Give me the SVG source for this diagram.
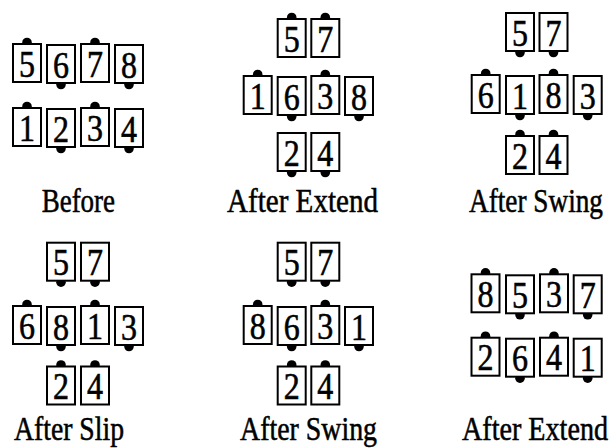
<svg xmlns="http://www.w3.org/2000/svg" width="612" height="448" viewBox="0 0 612 448">
<style>
.b{fill:#fff;stroke:#000;stroke-width:2}
.d{fill:#000}
.n{font-family:"Liberation Serif","Times New Roman",serif;font-size:38px;text-anchor:middle;fill:#000;stroke:#000;stroke-width:0.6}
.l{font-family:"Liberation Serif","Times New Roman",serif;font-size:28px;fill:#000;stroke:#000;stroke-width:0.45}
</style>
<rect width="612" height="448" fill="#fff"/>
<defs>
<g id="bt"><circle class="d" cx="15" cy="-0.5" r="4.8"/><rect class="b" x="1" y="1" width="28" height="38"/></g>
<g id="bb"><circle class="d" cx="15" cy="40.5" r="4.8"/><rect class="b" x="1" y="1" width="28" height="38"/></g>
</defs>
<g id="before">
<g id="b5" transform="translate(12,43)"><use href="#bt"/><text class="n" x="15" y="33.5" textLength="16" lengthAdjust="spacingAndGlyphs">5</text></g>
<g id="b6" transform="translate(46,44)"><use href="#bb"/><text class="n" x="15" y="33.5" textLength="16" lengthAdjust="spacingAndGlyphs">6</text></g>
<g id="b7" transform="translate(80,43)"><use href="#bt"/><text class="n" x="15" y="33.5" textLength="16" lengthAdjust="spacingAndGlyphs">7</text></g>
<g id="b8" transform="translate(114,44)"><use href="#bb"/><text class="n" x="15" y="33.5" textLength="16" lengthAdjust="spacingAndGlyphs">8</text></g>
<g id="b1" transform="translate(12,107)"><use href="#bt"/><text class="n" x="15" y="33.5" textLength="16" lengthAdjust="spacingAndGlyphs">1</text></g>
<g id="b2" transform="translate(46,108)"><use href="#bb"/><text class="n" x="15" y="33.5" textLength="16" lengthAdjust="spacingAndGlyphs">2</text></g>
<g id="b3" transform="translate(80,107)"><use href="#bt"/><text class="n" x="15" y="33.5" textLength="16" lengthAdjust="spacingAndGlyphs">3</text></g>
<g id="b4" transform="translate(114,108)"><use href="#bb"/><text class="n" x="15" y="33.5" textLength="16" lengthAdjust="spacingAndGlyphs">4</text></g>
<text class="l" transform="translate(41.7,212) scale(1,1.2)" textLength="73.3" lengthAdjust="spacingAndGlyphs">Before</text>
</g>
<g id="extend1">
<g id="e5" transform="translate(276.7,18)"><use href="#bt"/><text class="n" x="15" y="33.5" textLength="16" lengthAdjust="spacingAndGlyphs">5</text></g>
<g id="e7" transform="translate(310.3,18)"><use href="#bt"/><text class="n" x="15" y="33.5" textLength="16" lengthAdjust="spacingAndGlyphs">7</text></g>
<g id="e1" transform="translate(242.7,75)"><use href="#bt"/><text class="n" x="15" y="33.5" textLength="16" lengthAdjust="spacingAndGlyphs">1</text></g>
<g id="e6" transform="translate(276.7,76)"><use href="#bb"/><text class="n" x="15" y="33.5" textLength="16" lengthAdjust="spacingAndGlyphs">6</text></g>
<g id="e3" transform="translate(310.3,75)"><use href="#bt"/><text class="n" x="15" y="33.5" textLength="16" lengthAdjust="spacingAndGlyphs">3</text></g>
<g id="e8" transform="translate(344,76)"><use href="#bb"/><text class="n" x="15" y="33.5" textLength="16" lengthAdjust="spacingAndGlyphs">8</text></g>
<g id="e2" transform="translate(276.7,132)"><use href="#bb"/><text class="n" x="15" y="33.5" textLength="16" lengthAdjust="spacingAndGlyphs">2</text></g>
<g id="e4" transform="translate(310.3,132)"><use href="#bb"/><text class="n" x="15" y="33.5" textLength="16" lengthAdjust="spacingAndGlyphs">4</text></g>
<text class="l" transform="translate(227,212) scale(1,1.2)" textLength="151" lengthAdjust="spacingAndGlyphs">After Extend</text>
</g>
<g id="swing1">
<g id="s5" transform="translate(505,12)"><use href="#bb"/><text class="n" x="15" y="33.5" textLength="16" lengthAdjust="spacingAndGlyphs">5</text></g>
<g id="s7" transform="translate(538.5,12)"><use href="#bb"/><text class="n" x="15" y="33.5" textLength="16" lengthAdjust="spacingAndGlyphs">7</text></g>
<g id="s6" transform="translate(470.7,74)"><use href="#bt"/><text class="n" x="15" y="33.5" textLength="16" lengthAdjust="spacingAndGlyphs">6</text></g>
<g id="s1" transform="translate(505,75)"><use href="#bb"/><text class="n" x="15" y="33.5" textLength="16" lengthAdjust="spacingAndGlyphs">1</text></g>
<g id="s8" transform="translate(538.5,74)"><use href="#bt"/><text class="n" x="15" y="33.5" textLength="16" lengthAdjust="spacingAndGlyphs">8</text></g>
<g id="s3" transform="translate(572.7,75)"><use href="#bb"/><text class="n" x="15" y="33.5" textLength="16" lengthAdjust="spacingAndGlyphs">3</text></g>
<g id="s2" transform="translate(505,135)"><use href="#bt"/><text class="n" x="15" y="33.5" textLength="16" lengthAdjust="spacingAndGlyphs">2</text></g>
<g id="s4" transform="translate(538.5,135)"><use href="#bt"/><text class="n" x="15" y="33.5" textLength="16" lengthAdjust="spacingAndGlyphs">4</text></g>
<text class="l" transform="translate(469,212) scale(1,1.2)" textLength="134" lengthAdjust="spacingAndGlyphs">After Swing</text>
</g>
<g id="slip">
<g id="p5" transform="translate(46,241.7)"><use href="#bb"/><text class="n" x="15" y="33.5" textLength="16" lengthAdjust="spacingAndGlyphs">5</text></g>
<g id="p7" transform="translate(80,241.7)"><use href="#bb"/><text class="n" x="15" y="33.5" textLength="16" lengthAdjust="spacingAndGlyphs">7</text></g>
<g id="p6" transform="translate(12,305)"><use href="#bt"/><text class="n" x="15" y="33.5" textLength="16" lengthAdjust="spacingAndGlyphs">6</text></g>
<g id="p8" transform="translate(46,306)"><use href="#bb"/><text class="n" x="15" y="33.5" textLength="16" lengthAdjust="spacingAndGlyphs">8</text></g>
<g id="p1" transform="translate(80,305)"><use href="#bt"/><text class="n" x="15" y="33.5" textLength="16" lengthAdjust="spacingAndGlyphs">1</text></g>
<g id="p3" transform="translate(114,306)"><use href="#bb"/><text class="n" x="15" y="33.5" textLength="16" lengthAdjust="spacingAndGlyphs">3</text></g>
<g id="p2" transform="translate(46,365.5)"><use href="#bt"/><text class="n" x="15" y="33.5" textLength="16" lengthAdjust="spacingAndGlyphs">2</text></g>
<g id="p4" transform="translate(80,365.5)"><use href="#bt"/><text class="n" x="15" y="33.5" textLength="16" lengthAdjust="spacingAndGlyphs">4</text></g>
<text class="l" transform="translate(14,440) scale(1,1.2)" textLength="110" lengthAdjust="spacingAndGlyphs">After Slip</text>
</g>
<g id="swing2">
<g id="w5" transform="translate(276.7,241.7)"><use href="#bb"/><text class="n" x="15" y="33.5" textLength="16" lengthAdjust="spacingAndGlyphs">5</text></g>
<g id="w7" transform="translate(310.3,241.7)"><use href="#bb"/><text class="n" x="15" y="33.5" textLength="16" lengthAdjust="spacingAndGlyphs">7</text></g>
<g id="w8" transform="translate(242.7,305)"><use href="#bt"/><text class="n" x="15" y="33.5" textLength="16" lengthAdjust="spacingAndGlyphs">8</text></g>
<g id="w6" transform="translate(276.7,306)"><use href="#bb"/><text class="n" x="15" y="33.5" textLength="16" lengthAdjust="spacingAndGlyphs">6</text></g>
<g id="w3" transform="translate(310.3,305)"><use href="#bt"/><text class="n" x="15" y="33.5" textLength="16" lengthAdjust="spacingAndGlyphs">3</text></g>
<g id="w1" transform="translate(344,306)"><use href="#bb"/><text class="n" x="15" y="33.5" textLength="16" lengthAdjust="spacingAndGlyphs">1</text></g>
<g id="w2" transform="translate(276.7,365.5)"><use href="#bt"/><text class="n" x="15" y="33.5" textLength="16" lengthAdjust="spacingAndGlyphs">2</text></g>
<g id="w4" transform="translate(310.3,365.5)"><use href="#bt"/><text class="n" x="15" y="33.5" textLength="16" lengthAdjust="spacingAndGlyphs">4</text></g>
<text class="l" transform="translate(240,440) scale(1,1.2)" textLength="137" lengthAdjust="spacingAndGlyphs">After Swing</text>
</g>
<g id="extend2">
<g id="x8" transform="translate(470.5,273.3)"><use href="#bt"/><text class="n" x="15" y="33.5" textLength="16" lengthAdjust="spacingAndGlyphs">8</text></g>
<g id="x5" transform="translate(505,274.3)"><use href="#bb"/><text class="n" x="15" y="33.5" textLength="16" lengthAdjust="spacingAndGlyphs">5</text></g>
<g id="x3" transform="translate(539,273.3)"><use href="#bt"/><text class="n" x="15" y="33.5" textLength="16" lengthAdjust="spacingAndGlyphs">3</text></g>
<g id="x7" transform="translate(572.7,274.3)"><use href="#bb"/><text class="n" x="15" y="33.5" textLength="16" lengthAdjust="spacingAndGlyphs">7</text></g>
<g id="x2" transform="translate(470.5,336.7)"><use href="#bt"/><text class="n" x="15" y="33.5" textLength="16" lengthAdjust="spacingAndGlyphs">2</text></g>
<g id="x6" transform="translate(505,337.7)"><use href="#bb"/><text class="n" x="15" y="33.5" textLength="16" lengthAdjust="spacingAndGlyphs">6</text></g>
<g id="x4" transform="translate(539,336.7)"><use href="#bt"/><text class="n" x="15" y="33.5" textLength="16" lengthAdjust="spacingAndGlyphs">4</text></g>
<g id="x1" transform="translate(572.7,337.7)"><use href="#bb"/><text class="n" x="15" y="33.5" textLength="16" lengthAdjust="spacingAndGlyphs">1</text></g>
<text class="l" transform="translate(462,440) scale(1,1.2)" textLength="146" lengthAdjust="spacingAndGlyphs">After Extend</text>
</g>
</svg>
